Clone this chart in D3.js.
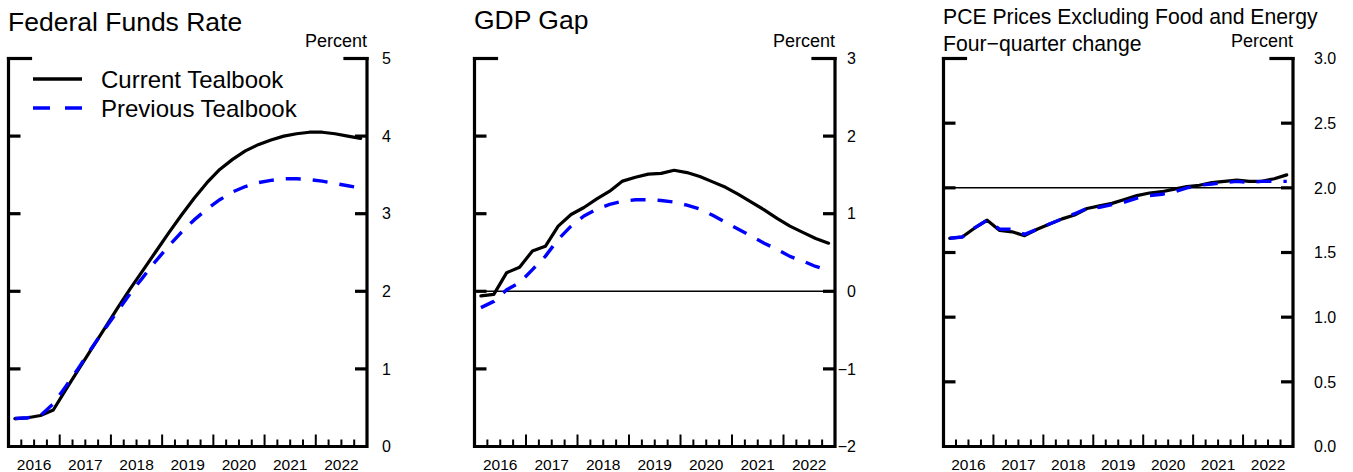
<!DOCTYPE html>
<html>
<head>
<meta charset="utf-8">
<script src="https://cdn.jsdelivr.net/npm/d3@7"></script>
<style>
  html, body { margin: 0; padding: 0; background: #fff; }
  svg { display: block; font-family: "Liberation Sans", Arial, Helvetica, sans-serif; }
</style>
</head>
<body>
<svg id="chart" width="1353" height="472"></svg>
<script>
// ---------------- DATA ----------------
const quarters = [
  "2016Q1","2016Q2","2016Q3","2016Q4",
  "2017Q1","2017Q2","2017Q3","2017Q4",
  "2018Q1","2018Q2","2018Q3","2018Q4",
  "2019Q1","2019Q2","2019Q3","2019Q4",
  "2020Q1","2020Q2","2020Q3","2020Q4",
  "2021Q1","2021Q2","2021Q3","2021Q4",
  "2022Q1","2022Q2","2022Q3","2022Q4"
];
const years = ["2016","2017","2018","2019","2020","2021","2022"];

const ffrCurrent  = [0.36,0.37,0.40,0.47, 0.74,1.00,1.26,1.52, 1.78,2.03,2.27,2.51, 2.75,2.98,3.20,3.40,
                     3.57,3.70,3.81,3.89, 3.95,4.00,4.03,4.05, 4.05,4.03,4.00,3.97];
const ffrPrevious = [0.36,0.37,0.40,0.55, 0.78,1.02,1.27,1.51, 1.74,1.97,2.18,2.39, 2.58,2.76,2.92,3.06,
                     3.18,3.28,3.35,3.40, 3.43,3.45,3.45,3.44, 3.42,3.39,3.36,3.33];

const gapCurrent  = [-0.06,-0.04,0.24,0.31, 0.52,0.58,0.84,0.99, 1.08,1.19,1.29,1.42, 1.47,1.51,1.52,1.56,
                     1.53,1.48,1.41,1.34, 1.25,1.15,1.05,0.94, 0.84,0.76,0.68,0.62];
const gapPrevious = [-0.21,-0.13,0.02,0.11, 0.28,0.45,0.67,0.84, 0.97,1.06,1.12,1.16, 1.18,1.18,1.17,1.15,
                     1.11,1.06,0.98,0.89, 0.80,0.71,0.62,0.54, 0.45,0.39,0.32,0.27];

const pceCurrent  = [1.61,1.62,1.69,1.75, 1.67,1.66,1.63,1.68, 1.72,1.76,1.79,1.84, 1.86,1.88,1.91,1.94,
                     1.96,1.97,1.99,2.01, 2.02,2.04,2.05,2.06, 2.05,2.05,2.07,2.10];
const pcePrevious = [1.61,1.62,1.69,1.75, 1.68,1.68,1.64,1.68, 1.72,1.76,1.80,1.84, 1.85,1.87,1.89,1.92,
                     1.94,1.95,1.97,2.00, 2.02,2.03,2.04,2.05, 2.04,2.05,2.05,2.05];

const ffrTicks = [0,1,2,3,4,5];
const gapTicks = [-2,-1,0,1,2,3];
const pceTicks = [0,0.5,1.0,1.5,2.0,2.5,3.0];

const legendLabels = ["Current Tealbook","Previous Tealbook"];

// ---------------- LAYOUT ----------------
const TOP = 58.5, BOTTOM = 446.5;
const panels = [
  { left: 8.5, right: 367, ticks: ffrTicks, fmt: d3.format("d"), cur: ffrCurrent, prev: ffrPrevious,
    title: ["Federal Funds Rate"], titleSize: 26.5, titleY: [31], refLine: null,
    labX: 382, labAnchor: "start", legend: true },
  { left: 474.5, right: 835, ticks: gapTicks, fmt: d3.format("d"), cur: gapCurrent, prev: gapPrevious,
    title: ["GDP Gap"], titleSize: 26.5, titleY: [29], refLine: 0,
    labX: 856, labAnchor: "end", legend: false },
  { left: 943.5, right: 1293, ticks: pceTicks, fmt: d3.format(".1f"), cur: pceCurrent, prev: pcePrevious,
    title: ["PCE Prices Excluding Food and Energy", "Four\u2212quarter change"], titleSize: 21.2, titleY: [24, 51], refLine: 2.0,
    labX: 1314, labAnchor: "start", legend: false }
];

const svg = d3.select("#chart");
const qx = q => +q.slice(0,4) + (+q.slice(5) - 0.5) / 4;

panels.forEach(p => {
  const g = svg.append("g");
  const x = d3.scaleLinear().domain([+years[0], +years[years.length-1] + 1]).range([p.left, p.right]);
  const y = d3.scaleLinear().domain(d3.extent(p.ticks)).range([BOTTOM, TOP]);

  // titles
  p.title.forEach((t, i) => {
    g.append("text").attr("x", p.left - 0.5).attr("y", p.titleY[i])
      .attr("font-size", p.titleSize).attr("fill", "#000").text(t);
  });
  g.append("text").attr("x", p.right).attr("y", 47).attr("text-anchor", "end")
    .attr("font-size", 18).text("Percent");

  // reference line
  if (p.refLine !== null) {
    g.append("line").attr("x1", p.left).attr("x2", p.right)
      .attr("y1", y(p.refLine)).attr("y2", y(p.refLine))
      .attr("stroke", "#000").attr("stroke-width", 1.5);
  }

  // frame: left, right, bottom
  const fw = 3.2;
  g.append("path")
    .attr("d", `M${p.left},${TOP}V${BOTTOM}H${p.right}V${TOP}`)
    .attr("fill", "none").attr("stroke", "#000").attr("stroke-width", fw)
    .attr("stroke-linejoin", "miter").attr("stroke-linecap", "square");
  // top bracket ends
  g.append("line").attr("x1", p.left).attr("x2", p.left + 22).attr("y1", TOP).attr("y2", TOP)
    .attr("stroke", "#000").attr("stroke-width", fw).attr("stroke-linecap", "square");
  g.append("line").attr("x1", p.right - 22).attr("x2", p.right).attr("y1", TOP).attr("y2", TOP)
    .attr("stroke", "#000").attr("stroke-width", fw).attr("stroke-linecap", "square");

  // y ticks (both sides, inward) and labels on right
  const inner = p.ticks.filter(t => t !== d3.max(p.ticks) && t !== d3.min(p.ticks));
  inner.forEach(t => {
    g.append("line").attr("x1", p.left).attr("x2", p.left + 12).attr("y1", y(t)).attr("y2", y(t))
      .attr("stroke", "#000").attr("stroke-width", fw);
    g.append("line").attr("x1", p.right - 12).attr("x2", p.right).attr("y1", y(t)).attr("y2", y(t))
      .attr("stroke", "#000").attr("stroke-width", fw);
  });
  p.ticks.forEach(t => {
    g.append("text").attr("x", p.labX).attr("y", y(t)).attr("dy", "0.36em")
      .attr("text-anchor", p.labAnchor).attr("font-size", 16).text(p.fmt(t));
  });

  // x ticks: quarters minor, years major
  const qBounds = quarters.map(q => qx(q) - 0.125).filter(v => v > +years[0]);
  qBounds.forEach(v => {
    const major = Math.abs(v - Math.round(v)) < 1e-6;
    g.append("line").attr("x1", x(v)).attr("x2", x(v))
      .attr("y1", BOTTOM).attr("y2", BOTTOM - (major ? 12 : 7))
      .attr("stroke", "#000").attr("stroke-width", 2);
  });
  years.forEach(yr => {
    g.append("text").attr("x", x(+yr + 0.5)).attr("y", 470).attr("text-anchor", "middle")
      .attr("font-size", 15.5).text(yr);
  });

  // series
  const line = d3.line().x((d, i) => x(qx(quarters[i]))).y(d => y(d));
  g.append("path").datum(p.cur).attr("d", line)
    .attr("fill", "none").attr("stroke", "#000").attr("stroke-width", 3.2)
    .attr("stroke-linejoin", "round").attr("stroke-linecap", "round");
  g.append("path").datum(p.prev).attr("d", line)
    .attr("fill", "none").attr("stroke", "#0000ff").attr("stroke-width", 3.4)
    .attr("stroke-dasharray", "15,12").attr("stroke-linejoin", "round").attr("stroke-linecap", "butt");

  if (p.legend) {
    const ly = [79, 108];
    const styles = [{c: "#000", d: null}, {c: "#0000ff", d: "17,15"}];
    legendLabels.forEach((lab, i) => {
      const l = g.append("line").attr("x1", 33).attr("x2", 82).attr("y1", ly[i]).attr("y2", ly[i])
        .attr("stroke", styles[i].c).attr("stroke-width", 3.4);
      if (styles[i].d) l.attr("stroke-dasharray", styles[i].d);
      g.append("text").attr("x", 101).attr("y", ly[i] + 8.5).attr("font-size", 24).text(lab);
    });
  }
});
</script>
</body>
</html>
